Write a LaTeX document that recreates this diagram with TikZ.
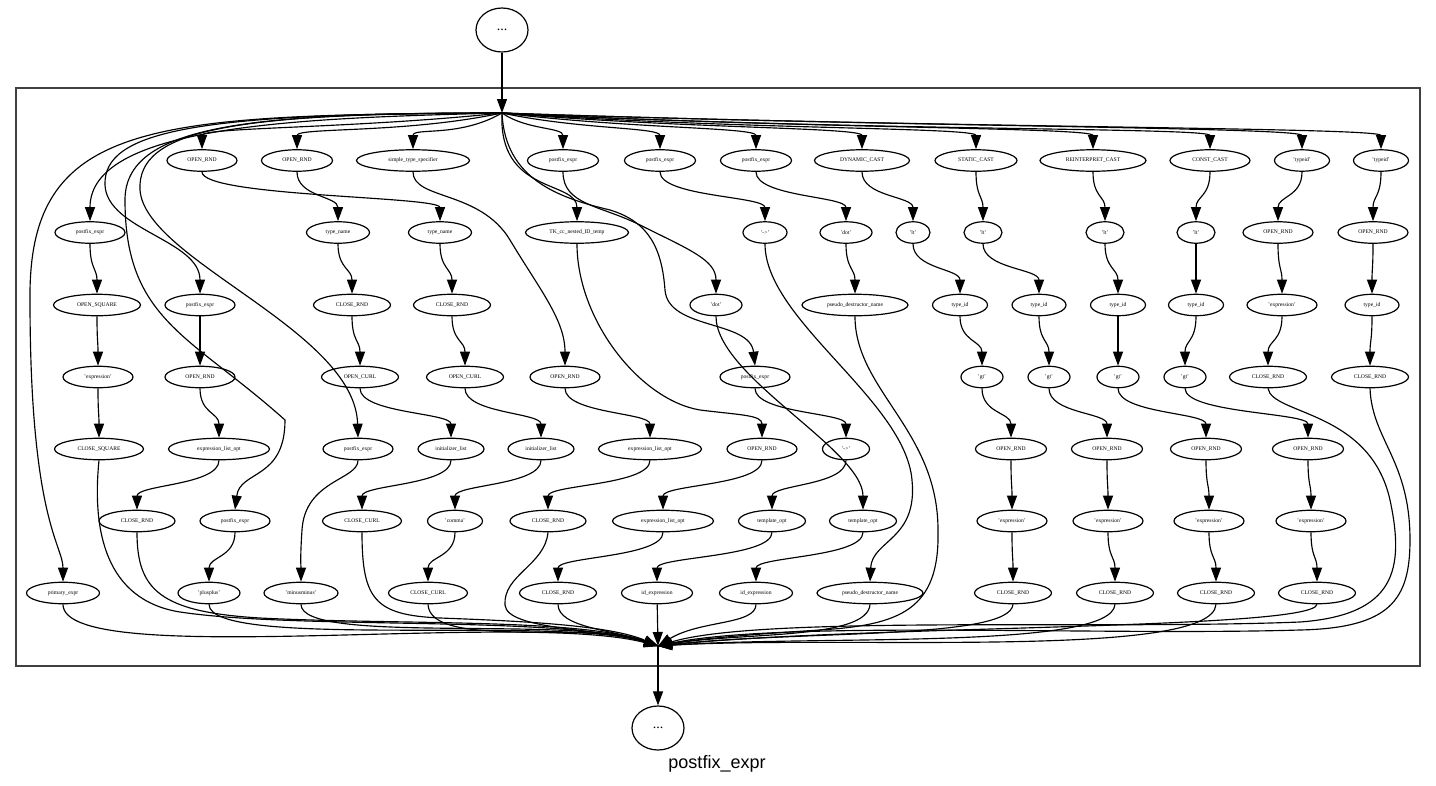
\documentclass[tikz,border=0pt]{standalone}
\usepackage{fontspec}
\setmainfont{Liberation Serif}
\newfontfamily\cllabel{Liberation Sans}
\usetikzlibrary{shapes.geometric,arrows.meta}
\begin{document}
\begin{tikzpicture}[x=1pt,y=1pt,
 nd/.style={ellipse,draw,line width=1.2pt,inner sep=0pt,minimum height=21.5pt,font=\fontsize{5.6}{6.5}\selectfont},
 wd/.style={minimum width=#1pt},
 edg/.style={line width=1.15pt,-{Triangle[length=14pt,width=10pt]}},
 vv/.style={out=-90,in=90,out distance=#1,in distance=#1},
 vv/.default=25pt]
\useasboundingbox (0,0) rectangle (1436,-785);
\draw[line width=1.3pt,black!75] (16,-88) rectangle (1420,-666);
\node[ellipse,draw,line width=1.2pt,minimum width=52pt,minimum height=44pt,inner sep=0pt,font=\fontsize{14}{16}\selectfont] (top) at (502,-30) {...};
\node[ellipse,draw,line width=1.2pt,minimum width=52pt,minimum height=44pt,inner sep=0pt,font=\fontsize{14}{16}\selectfont] (bot) at (658,-728) {...};
\node[font=\cllabel\fontsize{18}{20}\selectfont] (clabel) at (717,-764) {postfix\_expr};
\coordinate (E) at (502,-113);
\coordinate (X) at (658,-646);
% row 1
\node[nd,wd=70] (a1) at (202,-160.5) {OPEN\_RND};
\node[nd,wd=71] (b1) at (297,-160.5) {OPEN\_RND};
\node[nd,wd=113] (c1) at (413,-160.5) {simple\_type\_specifier};
\node[nd,wd=71] (d1) at (563,-160.5) {postfix\_expr};
\node[nd,wd=71] (e1) at (660,-160.5) {postfix\_expr};
\node[nd,wd=71] (f1) at (756,-160.5) {postfix\_expr};
\node[nd,wd=95] (g1) at (862,-160.5) {DYNAMIC\_CAST};
\node[nd,wd=82] (h1) at (976,-160.5) {STATIC\_CAST};
\node[nd,wd=106] (i1) at (1093,-160.5) {REINTERPRET\_CAST};
\node[nd,wd=80] (j1) at (1210,-160.5) {CONST\_CAST};
\node[nd,wd=55] (k1) at (1302,-160.5) {'typeid'};
\node[nd,wd=55] (l1) at (1381,-160.5) {'typeid'};
% row 2
\node[nd,wd=70] (pe2) at (90,-232.5) {postfix\_expr};
\node[nd,wd=63] (tn2a) at (338,-232.5) {type\_name};
\node[nd,wd=63] (tn2b) at (440,-232.5) {type\_name};
\node[nd,wd=103] (tk2) at (577,-232.5) {TK\_cc\_nested\_ID\_temp};
\node[nd,wd=44] (ar2) at (765,-232.5) {'->'};
\node[nd,wd=52] (dt2) at (846,-232.5) {'dot'};
\node[nd,wd=34] (lt2a) at (913,-232.5) {'lt'};
\node[nd,wd=38] (lt2b) at (983,-232.5) {'lt'};
\node[nd,wd=38] (lt2c) at (1105,-232.5) {'lt'};
\node[nd,wd=38] (lt2d) at (1196,-232.5) {'lt'};
\node[nd,wd=70] (or2a) at (1278,-232.5) {OPEN\_RND};
\node[nd,wd=70] (or2b) at (1373,-232.5) {OPEN\_RND};
% row 3
\node[nd,wd=87] (os3) at (97,-305) {OPEN\_SQUARE};
\node[nd,wd=70] (pe3) at (200,-305) {postfix\_expr};
\node[nd,wd=77] (cr3a) at (352,-305) {CLOSE\_RND};
\node[nd,wd=77] (cr3b) at (452,-305) {CLOSE\_RND};
\node[nd,wd=52] (dt3) at (716,-305) {'dot'};
\node[nd,wd=106] (pd3) at (855,-305) {pseudo\_destructor\_name};
\node[nd,wd=55] (ti3a) at (960,-305) {type\_id};
\node[nd,wd=54] (ti3b) at (1039,-305) {type\_id};
\node[nd,wd=55] (ti3c) at (1118,-305) {type\_id};
\node[nd,wd=55] (ti3d) at (1196,-305) {type\_id};
\node[nd,wd=70] (ex3) at (1282,-305) {'expression'};
\node[nd,wd=54] (ti3e) at (1372,-305) {type\_id};
% row 4
\node[nd,wd=70] (ex4) at (98,-377) {'expression'};
\node[nd,wd=70] (or4a) at (200,-377) {OPEN\_RND};
\node[nd,wd=77] (oc4a) at (360,-377) {OPEN\_CURL};
\node[nd,wd=77] (oc4b) at (465,-377) {OPEN\_CURL};
\node[nd,wd=70] (or4b) at (565,-377) {OPEN\_RND};
\node[nd,wd=70] (pe4) at (755,-377) {postfix\_expr};
\node[nd,wd=42] (gt4a) at (982,-377) {'gt'};
\node[nd,wd=42] (gt4b) at (1049,-377) {'gt'};
\node[nd,wd=42] (gt4c) at (1118,-377) {'gt'};
\node[nd,wd=42] (gt4d) at (1185,-377) {'gt'};
\node[nd,wd=77] (cr4a) at (1268,-377) {CLOSE\_RND};
\node[nd,wd=77] (cr4b) at (1370,-377) {CLOSE\_RND};
% row 5
\node[nd,wd=89] (cs5) at (99,-449) {CLOSE\_SQUARE};
\node[nd,wd=101] (el5a) at (219,-449) {expression\_list\_opt};
\node[nd,wd=70] (pe5) at (358,-449) {postfix\_expr};
\node[nd,wd=66] (il5a) at (451,-449) {initializer\_list};
\node[nd,wd=66] (il5b) at (541,-449) {initializer\_list};
\node[nd,wd=103] (el5b) at (650,-449) {expression\_list\_opt};
\node[nd,wd=70] (or5a) at (762,-449) {OPEN\_RND};
\node[nd,wd=47] (ar5) at (846,-449) {'->'};
\node[nd,wd=71] (or5b) at (1011,-449) {OPEN\_RND};
\node[nd,wd=71] (or5c) at (1107,-449) {OPEN\_RND};
\node[nd,wd=71] (or5d) at (1206,-449) {OPEN\_RND};
\node[nd,wd=71] (or5e) at (1308,-449) {OPEN\_RND};
% row 6
\node[nd,wd=76] (cr6a) at (137,-521) {CLOSE\_RND};
\node[nd,wd=70] (pe6) at (235,-521) {postfix\_expr};
\node[nd,wd=79] (cc6) at (362,-521) {CLOSE\_CURL};
\node[nd,wd=55] (cm6) at (455,-521) {'comma'};
\node[nd,wd=76] (cr6b) at (548,-521) {CLOSE\_RND};
\node[nd,wd=101] (el6) at (663,-521) {expression\_list\_opt};
\node[nd,wd=67] (to6a) at (772,-521) {template\_opt};
\node[nd,wd=67] (to6b) at (863,-521) {template\_opt};
\node[nd,wd=70] (ex6a) at (1012,-521) {'expression'};
\node[nd,wd=70] (ex6b) at (1108,-521) {'expression'};
\node[nd,wd=70] (ex6c) at (1209,-521) {'expression'};
\node[nd,wd=70] (ex6d) at (1311,-521) {'expression'};
% row 7
\node[nd,wd=73] (pr7) at (63,-593) {primary\_expr};
\node[nd,wd=62] (pp7) at (209,-593) {'plusplus'};
\node[nd,wd=74] (mm7) at (301,-593) {'minusminus'};
\node[nd,wd=79] (cc7) at (428,-593) {CLOSE\_CURL};
\node[nd,wd=77] (cr7a) at (558,-593) {CLOSE\_RND};
\node[nd,wd=71] (id7a) at (657,-593) {id\_expression};
\node[nd,wd=73] (id7b) at (756,-593) {id\_expression};
\node[nd,wd=106] (pd7) at (870,-593) {pseudo\_destructor\_name};
\node[nd,wd=77] (cr7b) at (1013,-593) {CLOSE\_RND};
\node[nd,wd=77] (cr7c) at (1115,-593) {CLOSE\_RND};
\node[nd,wd=77] (cr7d) at (1216,-593) {CLOSE\_RND};
\node[nd,wd=77] (cr7e) at (1317,-593) {CLOSE\_RND};

% entry / exit
\draw[edg] (top) -- (E);
\draw[edg] (X) -- (bot);

% fan from entry to row 1
\draw[edg] (E) to[out=186,in=90,out distance=150pt,in distance=22pt] (a1);
\draw[edg] (E) to[out=192,in=90,out distance=100pt,in distance=22pt] (b1);
\draw[edg] (E) to[out=210,in=90,out distance=50pt,in distance=22pt] (c1);
\draw[edg] (E) to[out=-35,in=90,out distance=30pt,in distance=22pt] (d1);
\draw[edg] (E) to[out=-12,in=90,out distance=80pt,in distance=22pt] (e1);
\draw[edg] (E) to[out=-7,in=90,out distance=130pt,in distance=22pt] (f1);
\draw[edg] (E) to[out=-5,in=90,out distance=180pt,in distance=22pt] (g1);
\draw[edg] (E) to[out=-4,in=90,out distance=240pt,in distance=22pt] (h1);
\draw[edg] (E) to[out=-3,in=90,out distance=300pt,in distance=22pt] (i1);
\draw[edg] (E) to[out=-3,in=90,out distance=350pt,in distance=22pt] (j1);
\draw[edg] (E) to[out=-2,in=90,out distance=390pt,in distance=22pt] (k1);
\draw[edg] (E) to[out=-2,in=90,out distance=430pt,in distance=22pt] (l1);
% long edges from entry
\draw[edg] (E) .. controls (300,-118) and (90,-125) .. (pe2.north);
\draw[edg] (E) .. controls (150,-115) and (28,-120) .. (30,-300) .. controls (30,-520) and (63,-545) .. (pr7.north);
\draw[edg] (E) .. controls (200,-113) and (103,-130) .. (105,-185) .. controls (107,-230) and (200,-240) .. (pe3.north);
\draw[edg] (E) .. controls (230,-113) and (137,-130) .. (140,-190) .. controls (145,-260) and (355,-330) .. (pe5.north);
\draw[edg] (E) .. controls (250,-113) and (125,-125) .. (125,-200) .. controls (125,-320) and (190,-335) .. (285,-420) .. controls (285,-480) and (240,-470) .. (pe6.north);
\draw[edg] (E) .. controls (498,-195) and (577,-180) .. (tk2.north);
\draw[edg] (E) .. controls (505,-180) and (560,-198) .. (610,-210) .. controls (650,-222) and (662,-250) .. (665,-290) .. controls (668,-330) and (750,-320) .. (pe4.north);

% rule: postfix [ expr ]
\draw[edg] (pe2) to[vv] (os3);
\draw[edg] (os3) to[vv] (ex4);
\draw[edg] (ex4) to[vv] (cs5);
% rule: postfix ( list )
\draw[edg] (pe3) to[vv] (or4a);
\draw[edg] (or4a) to[vv] (el5a);
\draw[edg] (el5a) to[vv] (cr6a);
% rule: simple_type_specifier ( list )
\draw[edg] (c1.south) .. controls (413,-200) and (480,-190) .. (510,-240) .. controls (540,-290) and (565,-320) .. (or4b.north);
\draw[edg] (or4b) to[vv] (el5b);
\draw[edg] (el5b) to[vv] (cr6b);
% rule: TK ( list )
\draw[edg] (tk2.south) .. controls (577,-320) and (640,-400) .. (700,-410) .. controls (740,-415) and (762,-415) .. (or5a.north);
\draw[edg] (or5a) to[vv] (el6);
\draw[edg] (el6) to[vv] (cr7a);
% rules: ( type_name ) { list [,] }
\draw[edg] (b1) to[vv] (tn2a);
\draw[edg] (tn2a) to[vv] (cr3a);
\draw[edg] (cr3a) to[vv] (oc4a);
\draw[edg] (oc4a) to[vv] (il5a);
\draw[edg] (il5a) to[vv] (cc6);
\draw[edg] (a1) to[vv] (tn2b);
\draw[edg] (tn2b) to[vv] (cr3b);
\draw[edg] (cr3b) to[vv] (oc4b);
\draw[edg] (oc4b) to[vv] (il5b);
\draw[edg] (il5b) to[vv] (cm6);
\draw[edg] (cm6) to[vv] (cc7);
% ++ and --
\draw[edg] (pe6) to[vv] (pp7);
\draw[edg] (pe5.south) .. controls (358,-480) and (305,-480) .. (302,-530) .. controls (300,-560) and (301,-565) .. (mm7.north);
% member access
\draw[edg] (d1.south) .. controls (563,-205) and (600,-205) .. (640,-225) .. controls (690,-250) and (716,-260) .. (dt3.north);
\draw[edg] (dt3) to[vv=60pt] (to6b);
\draw[edg] (to6b) to[vv] (id7b);
\draw[edg] (pe4) to[vv] (ar5);
\draw[edg] (ar5) to[vv] (to6a);
\draw[edg] (to6a) to[vv] (id7a);
\draw[edg] (f1) to[vv] (dt2);
\draw[edg] (dt2) to[vv] (pd3);
\draw[edg] (e1) to[vv] (ar2);
\draw[edg] (ar2.south) .. controls (765,-320) and (905,-400) .. (912,-480) .. controls (918,-540) and (872,-540) .. (pd7.north);
% casts
\draw[edg] (g1) to[vv] (lt2a);
\draw[edg] (lt2a) to[vv] (ti3a);
\draw[edg] (ti3a) to[vv] (gt4a);
\draw[edg] (gt4a) to[vv] (or5b);
\draw[edg] (or5b) to[vv] (ex6a);
\draw[edg] (ex6a) to[vv] (cr7b);
\draw[edg] (h1) to[vv] (lt2b);
\draw[edg] (lt2b) to[vv] (ti3b);
\draw[edg] (ti3b) to[vv] (gt4b);
\draw[edg] (gt4b) to[vv] (or5c);
\draw[edg] (or5c) to[vv] (ex6b);
\draw[edg] (ex6b) to[vv] (cr7c);
\draw[edg] (i1) to[vv] (lt2c);
\draw[edg] (lt2c) to[vv] (ti3c);
\draw[edg] (ti3c) to[vv] (gt4c);
\draw[edg] (gt4c) to[vv] (or5d);
\draw[edg] (or5d) to[vv] (ex6c);
\draw[edg] (ex6c) to[vv] (cr7d);
\draw[edg] (j1) to[vv] (lt2d);
\draw[edg] (lt2d) to[vv] (ti3d);
\draw[edg] (ti3d) to[vv] (gt4d);
\draw[edg] (gt4d) to[vv] (or5e);
\draw[edg] (or5e) to[vv] (ex6d);
\draw[edg] (ex6d) to[vv] (cr7e);
% typeid
\draw[edg] (k1) to[vv] (or2a);
\draw[edg] (or2a) to[vv] (ex3);
\draw[edg] (ex3) to[vv] (cr4a);
\draw[edg] (l1) to[vv] (or2b);
\draw[edg] (or2b) to[vv] (ti3e);
\draw[edg] (ti3e) to[vv] (cr4b);

% exits into the merge point
\draw[edg] (pr7.south) .. controls (63,-670) and (520,-610) .. (X);
\draw[edg] (cs5.south) .. controls (92,-530) and (105,-600) .. (180,-612) .. controls (300,-630) and (560,-615) .. (X);
\draw[edg] (cr6a.south) .. controls (137,-590) and (160,-612) .. (260,-618) .. controls (400,-625) and (580,-618) .. (X);
\draw[edg] (pp7.south) .. controls (209,-650) and (560,-615) .. (X);
\draw[edg] (mm7.south) .. controls (301,-645) and (570,-615) .. (X);
\draw[edg] (cc6.south) .. controls (362,-600) and (375,-615) .. (440,-618) .. controls (520,-621) and (610,-625) .. (X);
\draw[edg] (cc7.south) .. controls (430,-650) and (590,-620) .. (X);
\draw[edg] (cr6b.south) .. controls (545,-565) and (503,-575) .. (505,-605) .. controls (507,-630) and (600,-628) .. (X);
\draw[edg] (cr7a.south) .. controls (558,-628) and (615,-630) .. (X);
\draw[edg] (id7a) -- (X);
\draw[edg] (id7b.south) .. controls (756,-625) and (700,-620) .. (X);
\draw[edg] (pd7.south) .. controls (868,-640) and (740,-632) .. (X);
\draw[edg] (pd3.south) .. controls (855,-390) and (938,-430) .. (938,-530) .. controls (940,-610) and (900,-625) .. (820,-630) .. controls (740,-635) and (690,-640) .. (X);
\draw[edg] (cr7b.south) .. controls (1010,-640) and (800,-630) .. (X);
\draw[edg] (cr7c.south) .. controls (1112,-650) and (820,-635) .. (X);
\draw[edg] (cr7d.south) .. controls (1213,-660) and (840,-635) .. (X);
\draw[edg] (cr7e.south) .. controls (1313,-630) and (860,-625) .. (X);
\draw[edg] (cr4a.south) .. controls (1272,-415) and (1370,-410) .. (1390,-500) .. controls (1405,-570) and (1395,-615) .. (1300,-622) .. controls (1100,-630) and (760,-615) .. (X);
\draw[edg] (cr4b.south) .. controls (1372,-440) and (1410,-460) .. (1410,-540) .. controls (1410,-600) and (1390,-628) .. (1300,-630) .. controls (1100,-636) and (780,-620) .. (X);
\end{tikzpicture}
\end{document}
